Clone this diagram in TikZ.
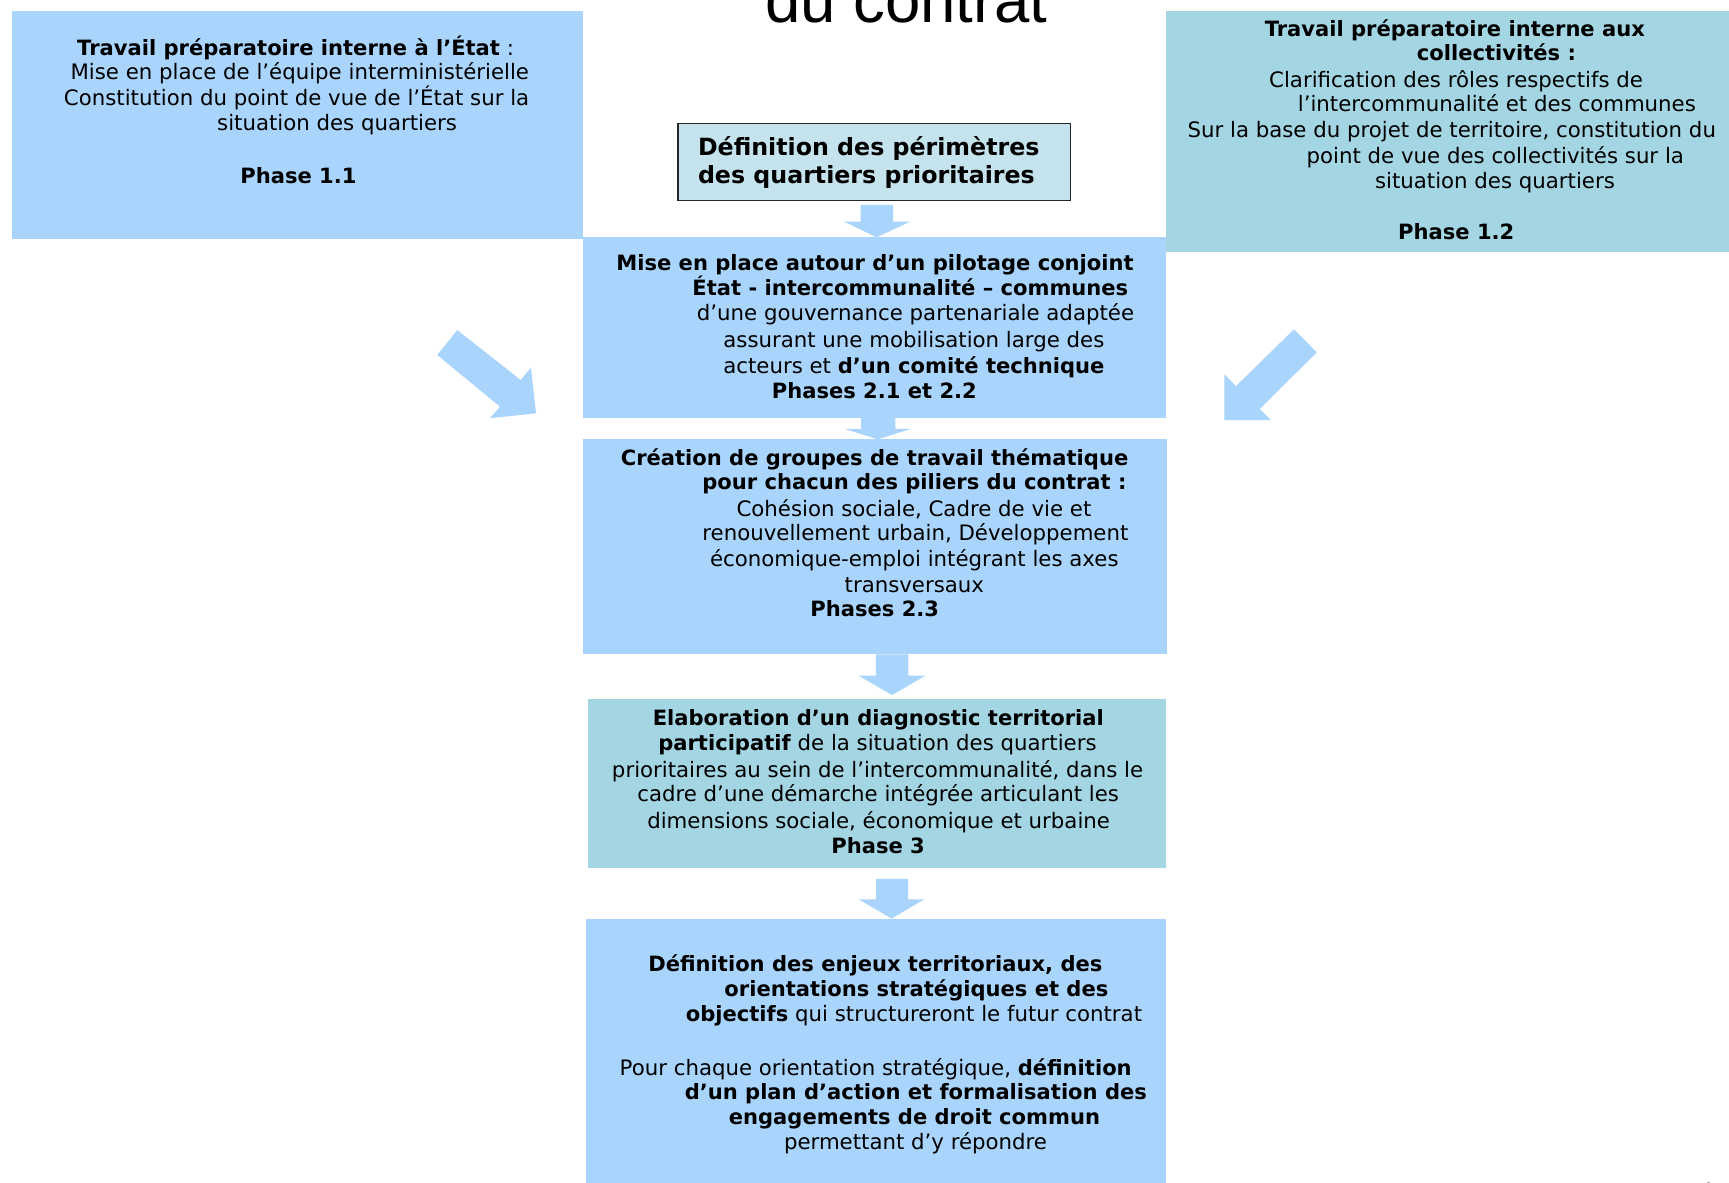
\documentclass[tikz,border=0pt]{standalone}
\usepackage{fontspec}
\setmainfont{DejaVu Sans}
\newfontfamily\titlefont{Liberation Sans}
\usetikzlibrary{fit}
\definecolor{lblue}{HTML}{A9D4FB}
\definecolor{tealb}{HTML}{A3D5E3}
\definecolor{defc}{HTML}{C4E3EC}
\begin{document}
\begin{tikzpicture}[x=0.5pt,y=-0.5pt,
  ln/.style={anchor=base west, inner sep=0pt, outer sep=0pt, font=\fontsize{9.65}{11.6}\selectfont},
  lnb/.style={ln, font=\fontsize{9.55}{11.6}\selectfont\bfseries},
  big/.style={anchor=base west, inner sep=0pt, outer sep=0pt, font=\fontsize{10.75}{12.5}\selectfont\bfseries},
  boxL/.style={fill=lblue, draw=none, inner sep=0pt, outer sep=0pt},
  boxT/.style={fill=tealb, draw=none, inner sep=0pt, outer sep=0pt},
  flow/.style={fill=lblue, draw=none}]
\useasboundingbox (0,0) rectangle (1568,1072);
\clip (0,0) rectangle (1568,1072);
\fill[white] (0,0) rectangle (1568,1072);

% boxes
\node[boxL, fit={(11,10) (528.5,217)}] (b11) {};
\node[boxT, fit={(1057.7,10) (1580,228.6)}] (b12) {};
\node[boxL, fit={(529,215.2) (1057.7,379.4)}] (b2) {};
\node[boxL, fit={(529,398.1) (1058,593.4)}] (b3) {};
\node[boxT, fit={(533.5,633.5) (1057.5,787)}] (b4) {};
\node[boxL, fit={(531,833.5) (1057.5,1090)}] (b5) {};
\node[fill=defc, draw=black!85, line width=0.7pt, inner sep=0pt, fit={(615,112) (971,182)}] (def) {};

% title (cut at top, as in the original)
\node[anchor=base, inner sep=0pt, font=\titlefont\fontsize{28.8}{30}\selectfont] (title) at (822,20) {du contrat};

% vertical block arrows
\fill[flow] (780.4,185.9) -- (809.9,185.9) -- (809.9,201) -- (825.3,201) -- (795,215.2) -- (765.5,201) -- (780.4,201) -- cycle;
\fill[flow] (781,379) -- (812,379) -- (812,389) -- (826,389) -- (796,398.4) -- (766,389) -- (781,389) -- cycle;
\fill[flow] (794.2,593.4) -- (823.8,593.4) -- (823.8,612.7) -- (839.4,612.7) -- (809,630.3) -- (778.6,612.7) -- (794.2,612.7) -- cycle;
\fill[flow] (794.5,797.1) -- (823.5,797.1) -- (823.5,815.5) -- (838.3,815.5) -- (808.5,833.1) -- (778.6,815.5) -- (794.5,815.5) -- cycle;

% diagonal block arrows
\fill[flow] (396.6,321.9) -- (453.4,368.8) -- (444.4,379.3) -- (486.1,374.8) -- (481.5,333.4) -- (472.2,344.6) -- (414.7,299.3) -- cycle;
\fill[flow] (1173.5,298.6) -- (1194.1,319.5) -- (1142.6,370.9) -- (1152.4,380.9) -- (1110.3,380.9) -- (1110.3,339.4) -- (1120.9,350.1) -- cycle;

% box 1.1
\node[ln] (t11a) at (70,50) {\textbf{\fontsize{9.55}{11.6}\selectfont Travail préparatoire interne à l’État} :};
\node[ln] (t11b) at (64,72) {Mise en place de l’équipe interministérielle};
\node[ln] (t11c) at (58,96) {Constitution du point de vue de l’État sur la};
\node[ln] (t11d) at (197,118) {situation des quartiers};
\node[lnb] (t11e) at (218,166) {Phase 1.1};

% definition box
\node[big] (tda) at (633,141) {Définition des périmètres};
\node[big] (tdb) at (633,166) {des quartiers prioritaires};

% box 1.2
\node[lnb] (t12a) at (1147,33) {Travail préparatoire interne aux};
\node[lnb] (t12b) at (1285,55) {collectivités :};
\node[ln] (t12c) at (1151,79) {Clarification des rôles respectifs de};
\node[ln] (t12d) at (1177,101) {l’intercommunalité et des communes};
\node[ln] (t12e) at (1077,125) {Sur la base du projet de territoire, constitution du};
\node[ln] (t12f) at (1185,148) {point de vue des collectivités sur la};
\node[ln] (t12g) at (1247,171) {situation des quartiers};
\node[lnb] (t12h) at (1268,217) {Phase 1.2};

% box 2
\node[lnb] (t2a) at (559,245) {Mise en place autour d’un pilotage conjoint};
\node[lnb] (t2b) at (628,268) {État - intercommunalité – communes};
\node[ln] (t2c) at (632,291) {d’une gouvernance partenariale adaptée};
\node[ln] (t2d) at (656,315) {assurant une mobilisation large des};
\node[ln] (t2e) at (656,339) {acteurs et \textbf{\fontsize{9.55}{11.6}\selectfont d’un comité technique}};
\node[lnb] (t2f) at (700,361) {Phases 2.1 et 2.2};

% box 3
\node[lnb] (t3a) at (563,422) {Création de groupes de travail thématique};
\node[lnb] (t3b) at (637,444) {pour chacun des piliers du contrat :};
\node[ln] (t3c) at (668,468) {Cohésion sociale, Cadre de vie et};
\node[ln] (t3d) at (637,490) {renouvellement urbain, Développement};
\node[ln] (t3e) at (644,514) {économique-emploi intégrant les axes};
\node[ln] (t3f) at (766,537) {transversaux};
\node[lnb] (t3g) at (735,559) {Phases 2.3};

% box 4
\node[lnb] (t4a) at (592,658) {Elaboration d’un diagnostic territorial};
\node[ln] (t4b) at (597,681) {\textbf{\fontsize{9.55}{11.6}\selectfont participatif} de la situation des quartiers};
\node[ln] (t4c) at (555,705) {prioritaires au sein de l’intercommunalité, dans le};
\node[ln] (t4d) at (578,727) {cadre d’une démarche intégrée articulant les};
\node[ln] (t4e) at (587,751) {dimensions sociale, économique et urbaine};
\node[lnb] (t4f) at (754,774) {Phase 3};

% box 5
\node[lnb] (t5a) at (588,881) {Définition des enjeux territoriaux, des};
\node[lnb] (t5b) at (657,904) {orientations stratégiques et des};
\node[ln] (t5c) at (622,926) {\textbf{\fontsize{9.55}{11.6}\selectfont objectifs} qui structureront le futur contrat};
\node[ln] (t5d) at (562,975) {Pour chaque orientation stratégique, \textbf{\fontsize{9.55}{11.6}\selectfont définition}};
\node[lnb] (t5e) at (621,997) {d’un plan d’action et formalisation des};
\node[lnb] (t5f) at (661,1020) {engagements de droit commun};
\node[ln] (t5g) at (711,1042) {permettant d’y répondre};

% small grey mark at the bottom right edge
\draw[gray!70, line width=1.2pt] (1549,1072) arc[start angle=180, end angle=90, radius=5];
\end{tikzpicture}
\end{document}
